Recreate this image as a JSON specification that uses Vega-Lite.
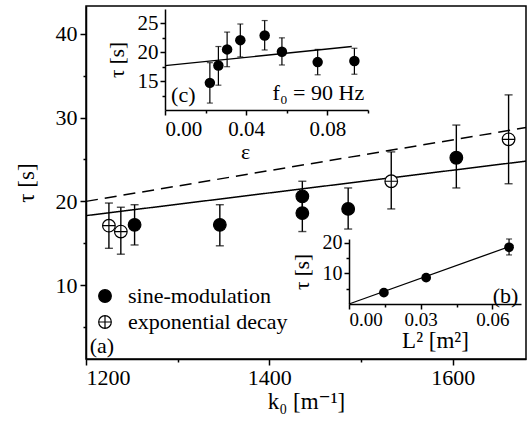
{
  "$schema": "https://vega.github.io/schema/vega-lite/v6.json",
  "width": 440,
  "height": 353,
  "autosize": {"type": "none"},
  "padding": {"left": 86, "top": 6, "right": 6, "bottom": 67},
  "background": "white",
  "config": {
    "view": {"stroke": "black", "strokeWidth": 1.5},
    "font": "Liberation Serif, Times New Roman, DejaVu Serif, serif",
    "axis": {
      "grid": false,
      "domainColor": "black",
      "domainWidth": 1.5,
      "tickColor": "black",
      "tickWidth": 1.5,
      "labelColor": "black",
      "titleColor": "black",
      "labelFont": "Liberation Serif, Times New Roman, DejaVu Serif, serif",
      "titleFont": "Liberation Serif, Times New Roman, DejaVu Serif, serif",
      "titleFontWeight": "normal"
    },
    "text": {"font": "Liberation Serif, Times New Roman, DejaVu Serif, serif"}
  },
  "datasets": {
    "mainPoints": [
      {"method": "sine-modulation", "k": 1253, "tau": 17.2, "lo": 14.8, "hi": 19.6},
      {"method": "sine-modulation", "k": 1346, "tau": 17.2, "lo": 14.7, "hi": 19.6},
      {"method": "sine-modulation", "k": 1436, "tau": 20.6, "lo": 18.8, "hi": 22.4},
      {"method": "sine-modulation", "k": 1436, "tau": 18.6, "lo": 16.4, "hi": 20.4},
      {"method": "sine-modulation", "k": 1486, "tau": 19.1, "lo": 16.7, "hi": 21.6},
      {"method": "sine-modulation", "k": 1604, "tau": 25.2, "lo": 21.6, "hi": 29.1},
      {"method": "exponential decay", "k": 1225, "tau": 17.1, "lo": 14.4, "hi": 19.8},
      {"method": "exponential decay", "k": 1238, "tau": 16.4, "lo": 13.7, "hi": 19.3},
      {"method": "exponential decay", "k": 1533, "tau": 22.4, "lo": 19.1, "hi": 25.9},
      {"method": "exponential decay", "k": 1661, "tau": 27.4, "lo": 22.1, "hi": 32.7}
    ],
    "mainLines": [
      {"fit": "sine-modulation fit", "k": 1200, "tau": 18.3},
      {"fit": "sine-modulation fit", "k": 1680, "tau": 24.8},
      {"fit": "exponential decay fit", "k": 1200, "tau": 20.0},
      {"fit": "exponential decay fit", "k": 1680, "tau": 28.8}
    ],
    "cPoints": [
      {"eps": 0.0221, "tau": 14.7, "lo": 11.2, "hi": 18.2},
      {"eps": 0.0263, "tau": 17.7, "lo": 14.3, "hi": 21.0},
      {"eps": 0.0306, "tau": 20.5, "lo": 17.5, "hi": 23.5},
      {"eps": 0.0371, "tau": 22.1, "lo": 19.2, "hi": 24.9},
      {"eps": 0.0491, "tau": 22.9, "lo": 20.4, "hi": 25.5},
      {"eps": 0.0576, "tau": 20.1, "lo": 17.8, "hi": 22.5},
      {"eps": 0.0752, "tau": 18.3, "lo": 16.1, "hi": 20.5},
      {"eps": 0.0933, "tau": 18.5, "lo": 16.2, "hi": 20.7}
    ],
    "cLine": [
      {"eps": 0.0, "tau": 17.7},
      {"eps": 0.092, "tau": 21.0}
    ],
    "bPoints": [
      {"L2": 0.0146, "tau": 3.7, "lo": 3.7, "hi": 3.7},
      {"L2": 0.0323, "tau": 8.6, "lo": 8.6, "hi": 8.6},
      {"L2": 0.067, "tau": 18.5, "lo": 16.0, "hi": 21.2}
    ],
    "bLine": [
      {"L2": 0.0, "tau": 0.0},
      {"L2": 0.0688, "tau": 19.2}
    ]
  },
  "layer": [
    {
      "layer": [
        {
          "data": {"name": "mainLines"},
          "mark": {"type": "line", "color": "black", "strokeWidth": 1.5},
          "encoding": {
            "x": {
              "field": "k", "type": "quantitative",
              "scale": {"domain": [1200, 1680], "nice": false, "zero": false},
              "axis": {
                "orient": "bottom",
                "values": [1200, 1300, 1400, 1500, 1600],
                "format": "d",
                "labelExpr": "datum.value % 200 === 0 ? datum.label : ''",
                "tickSize": {"condition": {"test": "datum.value % 200 === 0", "value": 6}, "value": 3},
                "labelFontSize": 22,
                "labelPadding": 2,
                "title": "k₀ [m⁻¹]",
                "titleFontSize": 23,
                "titlePadding": 2
              }
            },
            "y": {
              "field": "tau", "type": "quantitative",
              "scale": {"domain": [1.2, 43.3], "nice": false, "zero": false},
              "axis": {
                "orient": "left",
                "values": [5, 10, 15, 20, 25, 30, 35, 40],
                "labelExpr": "datum.value % 10 === 0 ? datum.label : ''",
                "tickSize": {"condition": {"test": "datum.value % 10 === 0", "value": 6}, "value": 3},
                "labelFontSize": 22,
                "labelPadding": 3,
                "title": "τ [s]",
                "titleFontSize": 23,
                "titlePadding": 17
              }
            },
            "strokeDash": {
              "field": "fit", "type": "nominal",
              "scale": {"domain": ["sine-modulation fit", "exponential decay fit"], "range": [[1, 0], [12, 7]]},
              "legend": null
            }
          }
        },
        {
          "data": {"name": "mainPoints"},
          "mark": {"type": "rule", "color": "black", "strokeWidth": 1.4},
          "encoding": {
            "x": {"field": "k", "type": "quantitative"},
            "y": {"field": "lo", "type": "quantitative"},
            "y2": {"field": "hi"}
          }
        },
        {
          "data": {"name": "mainPoints"},
          "mark": {"type": "tick", "orient": "horizontal", "color": "black", "size": 8, "thickness": 1.4},
          "encoding": {
            "x": {"field": "k", "type": "quantitative"},
            "y": {"field": "lo", "type": "quantitative"}
          }
        },
        {
          "data": {"name": "mainPoints"},
          "mark": {"type": "tick", "orient": "horizontal", "color": "black", "size": 8, "thickness": 1.4},
          "encoding": {
            "x": {"field": "k", "type": "quantitative"},
            "y": {"field": "hi", "type": "quantitative"}
          }
        },
        {
          "data": {"name": "mainPoints"},
          "mark": {"type": "point", "opacity": 1, "strokeWidth": 1.2, "size": 160},
          "encoding": {
            "x": {"field": "k", "type": "quantitative"},
            "y": {"field": "tau", "type": "quantitative"},
            "shape": {
              "field": "method", "type": "nominal",
              "scale": {"domain": ["sine-modulation", "exponential decay"], "range": ["circle", "M-1,0A1,1 0 1,1 1,0A1,1 0 1,1 -1,0ZM-1,0L1,0M0,-1L0,1"]},
              "legend": {
                "orient": "none", "legendX": 8, "legendY": 279, "title": null,
                "labelFontSize": 22, "labelColor": "black",
                "labelFont": "Liberation Serif, Times New Roman, DejaVu Serif, serif",
                "symbolSize": 160, "symbolStrokeWidth": 1.2,
                "labelOffset": 12, "rowPadding": 4, "padding": 0
              }
            },
            "fill": {
              "field": "method", "type": "nominal",
              "scale": {"domain": ["sine-modulation", "exponential decay"], "range": ["black", "white"]},
              "legend": {
                "orient": "none", "legendX": 8, "legendY": 279, "title": null,
                "labelFontSize": 22, "labelColor": "black",
                "labelFont": "Liberation Serif, Times New Roman, DejaVu Serif, serif",
                "symbolSize": 160, "symbolStrokeWidth": 1.2,
                "labelOffset": 12, "rowPadding": 4, "padding": 0
              }
            },
            "stroke": {
              "field": "method", "type": "nominal",
              "scale": {"domain": ["sine-modulation", "exponential decay"], "range": ["black", "black"]},
              "legend": {
                "orient": "none", "legendX": 8, "legendY": 279, "title": null,
                "labelFontSize": 22, "labelColor": "black",
                "labelFont": "Liberation Serif, Times New Roman, DejaVu Serif, serif",
                "symbolSize": 160, "symbolStrokeWidth": 1.2,
                "labelOffset": 12, "rowPadding": 4, "padding": 0
              }
            }
          }
        },
        {
          "data": {"values": [{}]},
          "mark": {"type": "text", "text": "(a)", "fontSize": 22, "align": "left", "baseline": "middle", "color": "black"},
          "encoding": {
            "x": {"datum": 1204, "type": "quantitative"},
            "y": {"datum": 2.8, "type": "quantitative"}
          }
        }
      ]
    },
    {
      "layer": [
        {
          "data": {"name": "cLine"},
          "mark": {"type": "line", "color": "black", "strokeWidth": 1.3},
          "encoding": {
            "x": {
              "field": "eps", "type": "quantitative",
              "scale": {"domain": [0, 0.1], "range": [79, 282], "nice": false, "zero": false},
              "axis": {
                "orient": "bottom", "offset": -249,
                "values": [0, 0.02, 0.04, 0.06, 0.08, 0.1],
                "format": ".2f",
                "labelExpr": "round(datum.value * 100) % 4 === 0 ? datum.label : ''",
                "tickSize": {"condition": {"test": "round(datum.value * 100) % 4 === 0", "value": 5}, "value": 3},
                "labelFontSize": 21,
                "labelPadding": 3,
                "title": "ε",
                "titleFontSize": 22,
                "titlePadding": 2,
                "titleX": 159
              }
            },
            "y": {
              "field": "tau", "type": "quantitative",
              "scale": {"domain": [10, 27.5], "range": [104, 3], "nice": false, "zero": false},
              "axis": {
                "orient": "left", "offset": -79,
                "values": [12.5, 15, 17.5, 20, 22.5, 25],
                "labelExpr": "datum.value % 5 === 0 ? datum.label : ''",
                "tickSize": {"condition": {"test": "datum.value % 5 === 0", "value": 5}, "value": 3},
                "labelFontSize": 21,
                "labelPadding": 2,
                "title": "τ [s]",
                "titleFontSize": 21,
                "titlePadding": 10
              }
            }
          }
        },
        {
          "data": {"name": "cPoints"},
          "mark": {"type": "rule", "color": "black", "strokeWidth": 1.2},
          "encoding": {
            "x": {"field": "eps", "type": "quantitative"},
            "y": {"field": "lo", "type": "quantitative"},
            "y2": {"field": "hi"}
          }
        },
        {
          "data": {"name": "cPoints"},
          "mark": {"type": "tick", "orient": "horizontal", "color": "black", "size": 6, "thickness": 1.2},
          "encoding": {
            "x": {"field": "eps", "type": "quantitative"},
            "y": {"field": "lo", "type": "quantitative"}
          }
        },
        {
          "data": {"name": "cPoints"},
          "mark": {"type": "tick", "orient": "horizontal", "color": "black", "size": 6, "thickness": 1.2},
          "encoding": {
            "x": {"field": "eps", "type": "quantitative"},
            "y": {"field": "hi", "type": "quantitative"}
          }
        },
        {
          "data": {"name": "cPoints"},
          "mark": {"type": "point", "filled": true, "opacity": 1, "color": "black", "size": 110, "shape": "circle"},
          "encoding": {
            "x": {"field": "eps", "type": "quantitative"},
            "y": {"field": "tau", "type": "quantitative"}
          }
        },
        {
          "data": {"values": [{}]},
          "mark": {"type": "text", "text": "(c)", "fontSize": 22, "align": "left", "baseline": "middle", "color": "black"},
          "encoding": {
            "x": {"datum": 0.003, "type": "quantitative"},
            "y": {"datum": 12.6, "type": "quantitative"}
          }
        },
        {
          "data": {"values": [{}]},
          "mark": {"type": "text", "text": "f₀ = 90 Hz", "fontSize": 22, "align": "left", "baseline": "middle", "color": "black"},
          "encoding": {
            "x": {"datum": 0.053, "type": "quantitative"},
            "y": {"datum": 13.0, "type": "quantitative"}
          }
        }
      ]
    },
    {
      "layer": [
        {
          "data": {"name": "bLine"},
          "mark": {"type": "line", "color": "black", "strokeWidth": 1.3},
          "encoding": {
            "x": {
              "field": "L2", "type": "quantitative",
              "scale": {"domain": [0, 0.072], "range": [263, 435], "nice": false, "zero": false},
              "axis": {
                "orient": "bottom", "offset": -55,
                "values": [0, 0.015, 0.03, 0.045, 0.06],
                "format": ".2f",
                "labelExpr": "round(datum.value * 1000) % 30 === 0 ? datum.label : ''",
                "tickSize": {"condition": {"test": "round(datum.value * 1000) % 30 === 0", "value": 5}, "value": 3},
                "labelFontSize": 19,
                "labelPadding": 1,
                "title": "L² [m²]",
                "titleFontSize": 23,
                "titlePadding": 0
              }
            },
            "y": {
              "field": "tau", "type": "quantitative",
              "scale": {"domain": [0, 21.2], "range": [298, 233], "nice": false, "zero": false},
              "axis": {
                "orient": "left", "offset": -263,
                "values": [5, 10, 15, 20],
                "labelExpr": "datum.value % 10 === 0 ? datum.label : ''",
                "tickSize": {"condition": {"test": "datum.value % 10 === 0", "value": 5}, "value": 3},
                "labelFontSize": 20,
                "labelPadding": 2,
                "title": "τ [s]",
                "titleFontSize": 21,
                "titlePadding": 10
              }
            }
          }
        },
        {
          "data": {"name": "bPoints"},
          "mark": {"type": "rule", "color": "black", "strokeWidth": 1.2},
          "encoding": {
            "x": {"field": "L2", "type": "quantitative"},
            "y": {"field": "lo", "type": "quantitative"},
            "y2": {"field": "hi"}
          }
        },
        {
          "data": {"name": "bPoints"},
          "mark": {"type": "tick", "orient": "horizontal", "color": "black", "size": 6, "thickness": 1.2},
          "encoding": {
            "x": {"field": "L2", "type": "quantitative"},
            "y": {"field": "lo", "type": "quantitative"}
          }
        },
        {
          "data": {"name": "bPoints"},
          "mark": {"type": "tick", "orient": "horizontal", "color": "black", "size": 6, "thickness": 1.2},
          "encoding": {
            "x": {"field": "L2", "type": "quantitative"},
            "y": {"field": "hi", "type": "quantitative"}
          }
        },
        {
          "data": {"name": "bPoints"},
          "mark": {"type": "point", "filled": true, "opacity": 1, "color": "black", "size": 95, "shape": "circle"},
          "encoding": {
            "x": {"field": "L2", "type": "quantitative"},
            "y": {"field": "tau", "type": "quantitative"}
          }
        },
        {
          "data": {"values": [{}]},
          "mark": {"type": "text", "text": "(b)", "fontSize": 22, "align": "center", "baseline": "middle", "color": "black"},
          "encoding": {
            "x": {"datum": 0.0655, "type": "quantitative"},
            "y": {"datum": 2.6, "type": "quantitative"}
          }
        }
      ]
    }
  ],
  "resolve": {"scale": {"x": "independent", "y": "independent"}}
}
